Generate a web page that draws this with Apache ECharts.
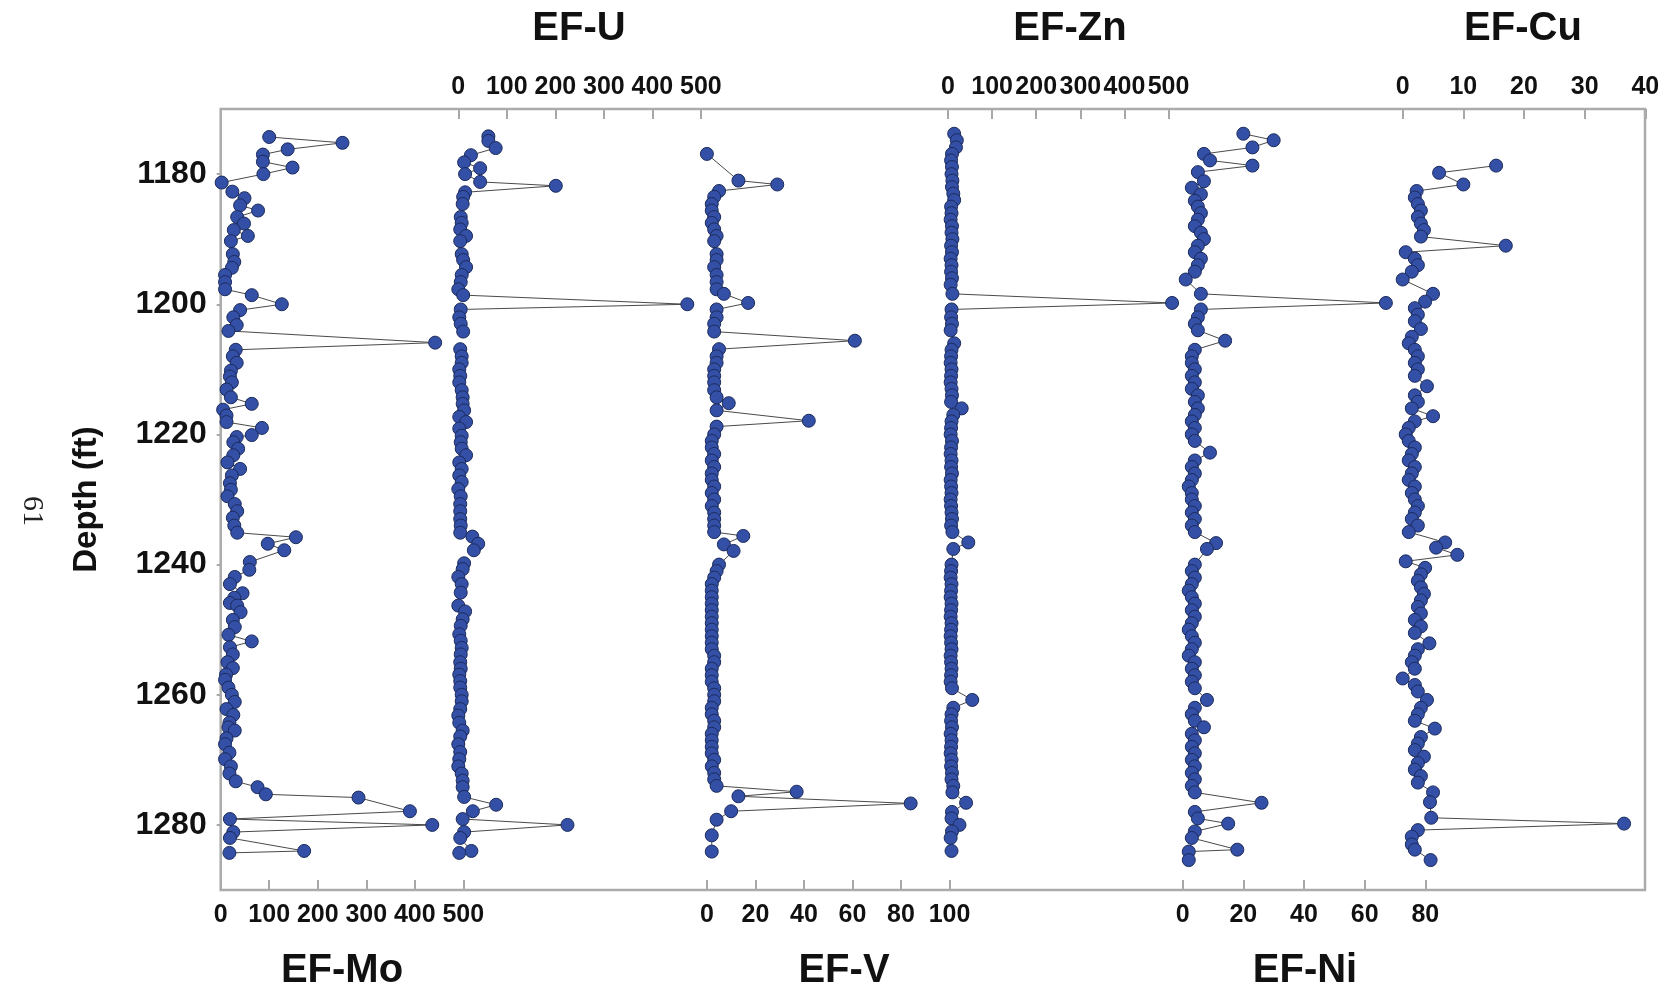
<!DOCTYPE html>
<html><head><meta charset="utf-8">
<script src="https://cdn.jsdelivr.net/npm/echarts@6/dist/echarts.min.js"></script>
<style>html,body{margin:0;padding:0;background:#fff}#c{width:1669px;height:997px}</style>
</head><body><div id="c"></div>
<script>
// ---------- data (depth in ft, enrichment factor values; null = no sample) ----------
const moDepth = [1174.3,1175.2,1176.2,1177,1178.1,1179,1180,1181.3,1182.7,1183.7,1184.8,1185.6,1186.6,1187.6,1188.6,1189.5,1190.3,1192.3,1193.5,1194.4,1195.5,1196.6,1197.7,1198.6,1200,1200.9,1202,1203.2,1204.1,1205.9,1207,1208,1209,1210.2,1211.1,1212,1213.1,1214.3,1215.3,1216.2,1217.1,1218.1,1219,1220.1,1220.4,1221.2,1222.2,1223.2,1224.3,1225.3,1226.3,1227.5,1228.5,1229.5,1230.7,1231.8,1232.8,1234,1235.1,1235.8,1236.8,1237.8,1239.6,1240.8,1241.9,1243,1244.4,1245.1,1245.9,1246.3,1247.3,1248.5,1249.6,1250.8,1251.8,1252.7,1253.8,1255,1255.9,1256.9,1257.7,1258.9,1260,1261.1,1262.2,1263.1,1264.3,1265,1265.5,1266.7,1267.6,1268.9,1269.9,1271,1272.1,1273.3,1274.2,1275.3,1275.8,1277.9,1279.1,1280,1281.1,1282,1284,1284.3];
const moValue = [100,251,138,87,87,148,88,2,24,49,40,77,34,48,27,56,21,25,28,23,9,9,9,64,126,40,26,33,16,442,31,25,33,21,19,23,12,21,64,5,12,12,85,64,33,26,36,26,14,40,23,19,21,14,29,34,25,28,34,155,97,131,60,59,29,19,45,28,19,34,41,25,29,16,64,19,25,14,25,11,9,16,23,29,12,26,18,16,29,12,9,18,9,21,18,31,76,93,284,390,19,436,26,19,172,18];

const uDepth = [1174.2,1174.9,1176,1177.1,1178.2,1179.1,1180,1181.2,1181.8,1182.8,1183.5,1184.6,1185.6,1186.6,1187.5,1188.5,1189.5,1190.3,1191.3,1192.3,1193.2,1194.3,1195.5,1196.6,1197.7,1198.6,1200,1200.8,1202,1203,1204.2,1205.5,1206.9,1208,1209,1210,1211,1212,1213.2,1214.3,1215.3,1216.3,1217.3,1218.1,1219.1,1220.2,1221.2,1222.2,1223.2,1224.3,1225.3,1226.3,1227.3,1228.4,1229.5,1230.7,1231.8,1233,1234,1235.1,1235.7,1236.8,1237.8,1238.8,1239.8,1240.7,1241.9,1243,1244.3,1245.3,1246.3,1247.2,1248.4,1249.4,1250.7,1251.7,1252.8,1253.8,1255,1256,1256.9,1257.9,1258.9,1260,1261,1262.2,1263.2,1264.3,1265.5,1266.4,1267.6,1268.8,1269.9,1271,1272.1,1273.2,1274.2,1275.7,1276.9,1277.9,1279.1,1280,1281.1,1282,1284,1284.3];
const uValue = [62,62,77,26,12,45,14,45,201,14,10,9,null,5,7,4,16,4,null,7,10,16,7,5,0,10,472,5,2,5,10,null,4,7,7,2,4,2,7,9,9,12,2,16,2,7,5,7,16,2,7,2,7,0,5,4,4,4,5,4,29,41,32,null,12,9,0,7,5,null,0,14,9,5,2,5,7,5,4,5,2,4,4,7,7,4,0,2,9,4,0,4,2,0,7,9,9,12,78,30,9,225,12,4,27,2];

const vDepth = [1176.9,1181,1181.6,1182.6,1183.5,1184.6,1185.6,1186.6,1187.5,1188.5,1189.5,1190.3,1192.3,1193.2,1194.3,1195.5,1196.6,1197.7,1198.4,1199.8,1200.8,1202,1203,1204.2,1205.6,1206.9,1208,1209,1210,1211,1212,1213.2,1214.3,1215.2,1216.3,1217.9,1218.8,1220,1221,1222,1223,1224,1225,1226,1227,1228,1229,1230,1231,1232,1233,1234,1235,1235.6,1236.9,1237.9,1240,1241,1242,1243,1244,1245,1246,1247,1248,1249,1250,1251,1252,1253,1254,1255,1256,1257,1258,1259,1260,1261,1262,1263,1264,1265,1266,1267,1268,1269,1270,1271,1272,1273,1274,1274.9,1275.6,1276.7,1277.9,1279.2,1281.6,1284.1];
const vValue = [0,13,29,5,3,2,2,3,2,3,4,3,4,4,3,4,4,4,7,17,4,4,3,3,61,5,4,4,3,3,3,3,4,9,4,42,4,3,2,2,3,2,3,2,2,3,2,3,2,3,3,3,3,15,7,11,5,4,3,2,2,2,2,2,2,2,2,2,2,2,3,3,2,2,2,3,3,3,2,2,3,3,2,2,2,2,3,2,3,3,4,37,13,84,10,4,2,2];

const znDepth = [1173.8,1174.8,1175.9,1176.9,1177.9,1178.9,1180,1181,1182,1183,1184,1185,1186,1187,1188,1189,1190,1191,1192,1193,1194,1195,1196,1197,1198.4,1199.8,1200.8,1202,1203,1204,1206,1207,1208,1209,1210,1211,1212,1213,1214,1215,1216,1217,1218,1219,1220,1221,1222,1223,1224,1225,1226,1227,1228,1229,1230,1231,1232,1233,1234,1235,1236.6,1237.6,1240,1241,1242,1243,1244,1245,1246,1247,1248,1249,1250,1251,1252,1253,1254,1255,1256,1257,1258,1259,1260.8,1262,1263,1264,1265,1266,1267,1268,1269,1270,1271,1272,1273,1274,1275,1276.6,1278,1279,1280,1281,1282,1284];
const znValue = [14,20,18,9,7,9,8,10,9,12,14,7,8,6,9,8,10,7,9,6,8,7,9,6,10,508,8,7,9,6,14,8,7,6,8,7,6,8,9,7,31,12,8,7,6,9,7,6,8,7,9,6,7,8,6,7,8,9,7,10,46,12,8,7,6,8,7,6,8,7,6,8,7,6,7,8,6,7,8,7,6,9,55,12,8,7,9,6,8,7,6,8,7,9,8,12,10,41,9,8,26,9,6,8];

const niDepth = [1173.8,1174.8,1175.9,1176.9,1177.9,1178.7,1179.7,1181.1,1182.1,1183.1,1184.1,1185,1186,1187,1188,1189,1190,1191,1192,1193,1194,1195,1196.2,1198.4,1199.8,1200.8,1202,1203,1204,1205.6,1207,1208,1209,1210,1211,1212,1213,1214,1215,1216,1217,1218,1219,1220,1221,1222.8,1224,1225,1226,1227,1228,1229,1230,1231,1232,1233,1234,1235,1236.7,1237.6,1240,1241,1242,1243,1244,1245,1246,1247,1248,1249,1250,1251,1252,1253,1254,1255,1256,1257,1258,1259,1260.8,1262,1263,1264,1265,1266,1267,1268,1269,1270,1271,1272,1273,1274,1275,1276.6,1278,1279,1279.8,1281,1282,1283.8,1284.1,1285.4];
const niValue = [20,30,23,7,9,23,5,7,3,6,4,5,6,5,4,6,7,5,4,6,5,4,1,6,67,6,5,4,5,14,4,3,3,4,3,4,3,5,4,5,4,3,4,3,4,9,4,3,4,3,2,3,3,4,3,4,3,4,11,8,4,3,4,3,2,3,4,3,4,3,2,3,4,3,2,4,3,4,3,4,8,4,3,4,7,3,4,3,4,3,4,3,4,3,4,26,4,5,15,4,3,18,2,2];

const cuDepth = [1178.7,1179.8,1181.6,1182.6,1183.6,1184.6,1185.6,1186.6,1187.6,1188.6,1189.6,1191,1192,1193,1194,1195,1196.2,1198.4,1199.6,1200.6,1201.6,1202.6,1203.8,1205,1206,1207,1208,1209,1210,1211,1212.6,1214,1215,1216,1217.2,1218,1219,1220,1221,1222,1223,1224,1225,1226,1227,1228,1229,1230,1231,1232,1233,1234,1235,1236.6,1237.4,1238.5,1239.5,1240.5,1241.5,1242.5,1243.5,1244.5,1245.5,1246.5,1247.5,1248.5,1249.5,1250.5,1252.1,1253,1254,1255,1256,1257.5,1258.5,1259.5,1260.8,1262,1263,1264,1265.2,1266.5,1267.5,1268.5,1269.5,1270.5,1271.5,1272.5,1273.5,1275,1276.5,1278.9,1279.8,1280.8,1281.8,1283,1283.8,1285.4];
const cuValue = [15.4,6,10,2.3,2,2.5,3,2.5,3,3.5,3,17,0.5,2,2.5,1.5,0,5,3.7,2,2.5,2,3,1.5,1,2,2.5,2,2.5,2,4,2,2.5,1.5,5,2,1,0.5,1,2,1.5,1,2,1.5,1,2,1.5,2,2.5,2,1.5,2.5,1,7,5.5,9,0.5,3.7,3,2.5,3,3.5,3,2.5,3,2,3,2,4.4,2.5,2,1.5,2,0,2,2.5,4,3,2.5,2,5.3,3,2.5,2,3.5,2.5,2,3,2.5,5,4.5,4.7,36.5,2.5,1.5,1.5,2,4.6];

const depthTicks = [1180,1200,1220,1240,1260,1280];
const panelNames = ['EF-Mo','EF-U','EF-V','EF-Zn','EF-Ni','EF-Cu'];
const panelMax = [500,500,100,550,80,40];
const panelTicks = [[0,100,200,300,400,500],[0,100,200,300,400,500],[0,20,40,60,80,100],[0,100,200,300,400,500],[0,20,40,60,80],[0,10,20,30,40]];
const depthArrays = [moDepth,uDepth,vDepth,znDepth,niDepth,cuDepth];
const valueArrays = [moValue,uValue,vValue,znValue,niValue,cuValue];

// ---------- layout ----------
const gridLeft = [220.7,458.3,706.9,948,1182.7,1402.7];
const gridWidth = 242.6;
const gridTop = 109, gridHeight = 781;
const axisPos = ['bottom','top','bottom','top','bottom','top'];
const titlePos = [[342,971],[579,29],[844,971],[1070,29],[1305,971],[1523,29]];
const FONT = '"Liberation Sans", Arial, sans-serif';

const chart = echarts.init(document.getElementById('c'), null, {renderer:'canvas'});
const grids = [], xAxes = [], yAxes = [], series = [];
for (let i = 0; i < 6; i++) {
  grids.push({left: gridLeft[i], top: gridTop, width: gridWidth, height: gridHeight});
  xAxes.push({
    gridIndex: i, type: 'value', position: axisPos[i], min: 0, max: panelMax[i],
    interval: panelTicks[i][1],
    axisLine: {show: false},
    axisTick: {show: true, inside: true, length: 10, customValues: panelTicks[i], lineStyle: {color: '#8c8c8c', width: 1.5}},
    axisLabel: {customValues: panelTicks[i], margin: axisPos[i]==='top' ? 9 : 13, color: '#111', fontSize: 25, fontWeight: 'bold', fontFamily: FONT,
      formatter: v => panelTicks[i].indexOf(v) >= 0 ? String(v) : ''},
    splitLine: {show: false}
  });
  const first = i === 0;
  yAxes.push({
    gridIndex: i, type: 'value', min: 1170, max: 1290, inverse: true,
    axisLine: {show: false},
    axisTick: {show: first, customValues: depthTicks, length: 4, lineStyle: {color: '#8c8c8c', width: 1.5}},
    axisLabel: {show: first, customValues: depthTicks, margin: 14, color: '#111', fontSize: 32, fontWeight: 'bold', fontFamily: FONT,
      formatter: v => String(v)},
    splitLine: {show: false},
    name: first ? 'Depth (ft)' : '', nameLocation: 'middle', nameGap: 117, nameRotate: 90,
    nameTextStyle: {fontSize: 33, fontWeight: 'bold', color: '#111', fontFamily: FONT}
  });
  const d = depthArrays[i], v = valueArrays[i];
  series.push({
    type: 'line', xAxisIndex: i, yAxisIndex: i,
    data: d.map((dep, k) => [v[k] === null ? '-' : v[k], dep]),
    connectNulls: false, showSymbol: true, showAllSymbol: true,
    symbol: 'circle', symbolSize: 13,
    itemStyle: {color: '#3350a6', borderColor: '#1c2b5c', borderWidth: 1},
    lineStyle: {color: '#4a4a4a', width: 1},
    clip: false, z: 3
  });
}

const graphics = [{
  type: 'rect', z: 1,
  shape: {x: gridLeft[0], y: gridTop, width: 1645 - gridLeft[0], height: gridHeight},
  style: {fill: 'none', stroke: '#ababab', lineWidth: 2.5}
}];
panelNames.forEach((n, i) => graphics.push({
  type: 'text', z: 5,
  style: {text: n, x: titlePos[i][0], y: titlePos[i][1], textAlign: 'center', textVerticalAlign: 'middle',
    font: 'bold 40px ' + FONT, fill: '#111'}
}));
graphics.push({
  type: 'text', z: 5, x: 32, y: 511, rotation: -Math.PI / 2,
  style: {text: '61', x: 0, y: 0, textAlign: 'center', textVerticalAlign: 'middle',
    font: '30px "Liberation Serif", "DejaVu Serif", serif', fill: '#222'}
});

chart.setOption({
  animation: false,
  backgroundColor: '#fff',
  grid: grids, xAxis: xAxes, yAxis: yAxes, series: series,
  graphic: graphics
});
</script></body></html>
